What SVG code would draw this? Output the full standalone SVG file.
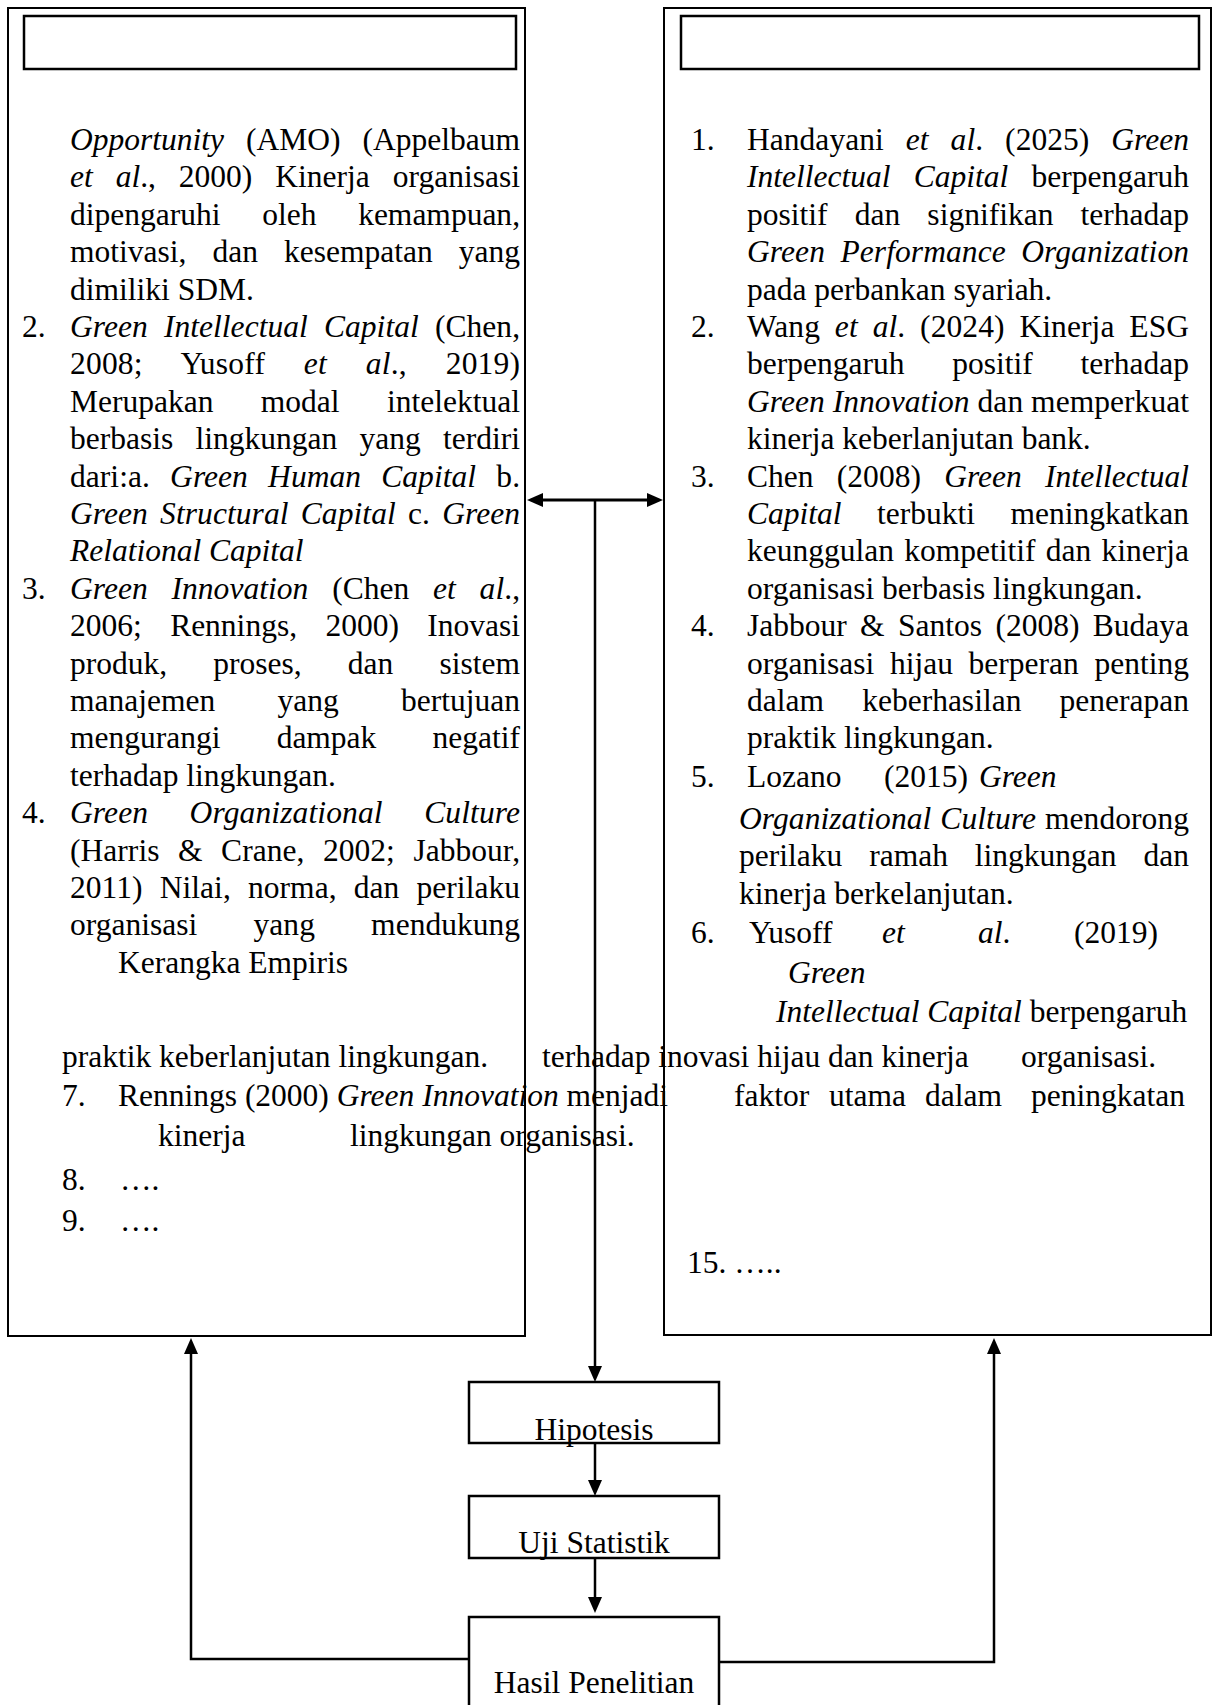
<svg xmlns="http://www.w3.org/2000/svg" width="1212" height="1705" viewBox="0 0 1212 1705">
<style>
.t{font-family:"Liberation Serif","Times New Roman",serif;font-size:31.5px;fill:#000}
.i{font-style:italic}
.c{text-anchor:middle}
.box{fill:none;stroke:#000;stroke-width:2}
.ttl{fill:none;stroke:#000;stroke-width:2.5}
.nd{fill:none;stroke:#000;stroke-width:2.5}
.conn{fill:none;stroke:#000;stroke-width:2.5}
</style>
<defs>
<marker id="ah" markerUnits="userSpaceOnUse" markerWidth="16" markerHeight="14" refX="0" refY="7" orient="auto"><path d="M0,0 L16,7 L0,14 z" fill="#000"/></marker>
<marker id="ahs" markerUnits="userSpaceOnUse" markerWidth="16" markerHeight="14" refX="0" refY="7" orient="auto-start-reverse"><path d="M0,0 L16,7 L0,14 z" fill="#000"/></marker>
</defs>
<rect width="1212" height="1705" fill="#fff"/>

<g id="left-box">
<rect class="box" x="8" y="8" width="517" height="1328"/>
<rect class="ttl" x="24" y="16" width="492" height="53"/>
<text class="t" x="70" y="150" word-spacing="14.2" textLength="450" lengthAdjust="spacing"><tspan class="i">Opportunity</tspan> (AMO) (Appelbaum</text>
<text class="t" x="70" y="187.4" word-spacing="15" textLength="450" lengthAdjust="spacing"><tspan class="i">et al</tspan>., 2000) Kinerja organisasi</text>
<text class="t" x="70" y="224.8" word-spacing="33.8" textLength="450" lengthAdjust="spacing">dipengaruhi oleh kemampuan,</text>
<text class="t" x="70" y="262.2" word-spacing="18.2" textLength="450" lengthAdjust="spacing">motivasi, dan kesempatan yang</text>
<text class="t" x="70" y="299.6">dimiliki SDM.</text>
<text class="t" x="22" y="337">2.</text>
<text class="t" x="70" y="337" word-spacing="8.3" textLength="450" lengthAdjust="spacing"><tspan class="i">Green Intellectual Capital</tspan> (Chen,</text>
<text class="t" x="70" y="374.4" word-spacing="30.7" textLength="450" lengthAdjust="spacing">2008; Yusoff <tspan class="i">et al</tspan>., 2019)</text>
<text class="t" x="70" y="411.8" word-spacing="39.5" textLength="450" lengthAdjust="spacing">Merupakan modal intelektual</text>
<text class="t" x="70" y="449.2" word-spacing="14.4" textLength="450" lengthAdjust="spacing">berbasis lingkungan yang terdiri</text>
<text class="t" x="70" y="486.6" word-spacing="12.3" textLength="450" lengthAdjust="spacing">dari:a. <tspan class="i">Green Human Capital</tspan> b.</text>
<text class="t" x="70" y="524" word-spacing="4.2" textLength="450" lengthAdjust="spacing"><tspan class="i">Green Structural Capital</tspan> c. <tspan class="i">Green</tspan></text>
<text class="t i" x="70" y="561.4">Relational Capital</text>
<text class="t" x="22" y="598.8">3.</text>
<text class="t" x="70" y="598.8" word-spacing="15.8" textLength="450" lengthAdjust="spacing"><tspan class="i">Green Innovation</tspan> (Chen <tspan class="i">et al</tspan>.,</text>
<text class="t" x="70" y="636.2" word-spacing="20.5" textLength="450" lengthAdjust="spacing">2006; Rennings, 2000) Inovasi</text>
<text class="t" x="70" y="673.6" word-spacing="38.3" textLength="450" lengthAdjust="spacing">produk, proses, dan sistem</text>
<text class="t" x="70" y="711" word-spacing="54.4" textLength="450" lengthAdjust="spacing">manajemen yang bertujuan</text>
<text class="t" x="70" y="748.4" word-spacing="48.3" textLength="450" lengthAdjust="spacing">mengurangi dampak negatif</text>
<text class="t" x="70" y="785.8">terhadap lingkungan.</text>
<text class="t" x="22" y="823.2">4.</text>
<text class="t i" x="70" y="823.2" word-spacing="33.4" textLength="450" lengthAdjust="spacing">Green Organizational Culture</text>
<text class="t" x="70" y="860.6" word-spacing="10.6" textLength="450" lengthAdjust="spacing">(Harris &amp; Crane, 2002; Jabbour,</text>
<text class="t" x="70" y="898" word-spacing="9.3" textLength="450" lengthAdjust="spacing">2011) Nilai, norma, dan perilaku</text>
<text class="t" x="70" y="935.4" word-spacing="48.3" textLength="450" lengthAdjust="spacing">organisasi yang mendukung</text>
<text class="t" x="118" y="972.8">Kerangka Empiris</text>
<text class="t" x="62" y="1067">praktik keberlanjutan lingkungan.</text>
<text class="t" x="62" y="1106">7.</text>
<text class="t" x="118" y="1106">Rennings (2000) <tspan class="i">Green Innovation</tspan> menjadi</text>
<text class="t" x="734" y="1106">faktor</text>
<text class="t" x="829" y="1106">utama</text>
<text class="t" x="925" y="1106">dalam</text>
<text class="t" x="1031" y="1106">peningkatan</text>
<text class="t" x="158" y="1146">kinerja</text>
<text class="t" x="350" y="1146">lingkungan organisasi.</text>
<text class="t" x="62" y="1190">8.</text>
<text class="t" x="120" y="1190">….</text>
<text class="t" x="62" y="1231">9.</text>
<text class="t" x="120" y="1231">….</text>
</g>

<g id="right-box">
<rect class="box" x="664" y="8" width="547" height="1327"/>
<rect class="ttl" x="681" y="16" width="518" height="53"/>
<text class="t" x="691" y="150">1.</text>
<text class="t" x="747" y="150" word-spacing="14.1" textLength="442" lengthAdjust="spacing">Handayani <tspan class="i">et al</tspan>. (2025) <tspan class="i">Green</tspan></text>
<text class="t" x="747" y="187.4" word-spacing="15.4" textLength="442" lengthAdjust="spacing"><tspan class="i">Intellectual Capital</tspan> berpengaruh</text>
<text class="t" x="747" y="224.8" word-spacing="19.3" textLength="442" lengthAdjust="spacing">positif dan signifikan terhadap</text>
<text class="t i" x="747" y="262.2" word-spacing="7.5" textLength="442" lengthAdjust="spacing">Green Performance Organization</text>
<text class="t" x="747" y="299.6">pada perbankan syariah.</text>
<text class="t" x="691" y="337">2.</text>
<text class="t" x="747" y="337" word-spacing="6.9" textLength="442" lengthAdjust="spacing">Wang <tspan class="i">et al</tspan>. (2024) Kinerja ESG</text>
<text class="t" x="747" y="374.4" word-spacing="39.9" textLength="442" lengthAdjust="spacing">berpengaruh positif terhadap</text>
<text class="t" x="747" y="411.8" textLength="442" lengthAdjust="spacing"><tspan class="i">Green Innovation</tspan> dan memperkuat</text>
<text class="t" x="747" y="449.2">kinerja keberlanjutan bank.</text>
<text class="t" x="691" y="486.6">3.</text>
<text class="t" x="747" y="486.6" word-spacing="15.2" textLength="442" lengthAdjust="spacing">Chen (2008) <tspan class="i">Green Intellectual</tspan></text>
<text class="t" x="747" y="524" word-spacing="27.6" textLength="442" lengthAdjust="spacing"><tspan class="i">Capital</tspan> terbukti meningkatkan</text>
<text class="t" x="747" y="561.4" word-spacing="2.4" textLength="442" lengthAdjust="spacing">keunggulan kompetitif dan kinerja</text>
<text class="t" x="747" y="598.8">organisasi berbasis lingkungan.</text>
<text class="t" x="691" y="636.2">4.</text>
<text class="t" x="747" y="636.2" word-spacing="5.5" textLength="442" lengthAdjust="spacing">Jabbour &amp; Santos (2008) Budaya</text>
<text class="t" x="747" y="673.6" word-spacing="7.7" textLength="442" lengthAdjust="spacing">organisasi hijau berperan penting</text>
<text class="t" x="747" y="711" word-spacing="30.3" textLength="442" lengthAdjust="spacing">dalam keberhasilan penerapan</text>
<text class="t" x="747" y="748.4">praktik lingkungan.</text>
<text class="t" x="691" y="787">5.</text>
<text class="t" x="747" y="787">Lozano</text>
<text class="t" x="884" y="787">(2015)</text>
<text class="t i" x="979" y="787">Green</text>
<text class="t" x="739" y="829" word-spacing="1" textLength="450" lengthAdjust="spacing"><tspan class="i">Organizational Culture</tspan> mendorong</text>
<text class="t" x="739" y="866" word-spacing="19.1" textLength="450" lengthAdjust="spacing">perilaku ramah lingkungan dan</text>
<text class="t" x="739" y="904">kinerja berkelanjutan.</text>
<text class="t" x="691" y="943">6.</text>
<text class="t" x="749" y="943">Yusoff</text>
<text class="t i" x="882" y="943">et</text>
<text class="t" x="978" y="943"><tspan class="i">al</tspan>.</text>
<text class="t" x="1074" y="943">(2019)</text>
<text class="t i" x="788" y="983">Green</text>
<text class="t" x="776" y="1022"><tspan class="i">Intellectual Capital</tspan> berpengaruh</text>
<text class="t" x="542" y="1067">terhadap inovasi hijau dan kinerja</text>
<text class="t" x="1021" y="1067">organisasi.</text>
<text class="t" x="687" y="1273">15. …..</text>
</g>

<g id="hipotesis">
<rect class="nd" x="469" y="1382" width="250" height="61"/>
<text class="t c" x="594" y="1440">Hipotesis</text>
</g>

<g id="uji-statistik">
<rect class="nd" x="469" y="1496" width="250" height="62"/>
<text class="t c" x="594" y="1553">Uji Statistik</text>
</g>

<g id="hasil-penelitian">
<rect class="nd" x="469" y="1617" width="250" height="120"/>
<text class="t c" x="594" y="1693">Hasil Penelitian</text>
</g>

<g id="connectors">
<line x1="543" y1="500" x2="647" y2="500" stroke="#000" stroke-width="3" marker-start="url(#ahs)" marker-end="url(#ah)"/>
<line class="conn" x1="595" y1="500" x2="595" y2="1366" marker-end="url(#ah)"/>
<line class="conn" x1="595" y1="1443" x2="595" y2="1480" marker-end="url(#ah)"/>
<line class="conn" x1="595" y1="1558" x2="595" y2="1597" marker-end="url(#ah)"/>
<polyline class="conn" points="469,1659 191,1659 191,1354" marker-end="url(#ah)"/>
<polyline class="conn" points="719,1662 994,1662 994,1354" marker-end="url(#ah)"/>
</g>
</svg>
